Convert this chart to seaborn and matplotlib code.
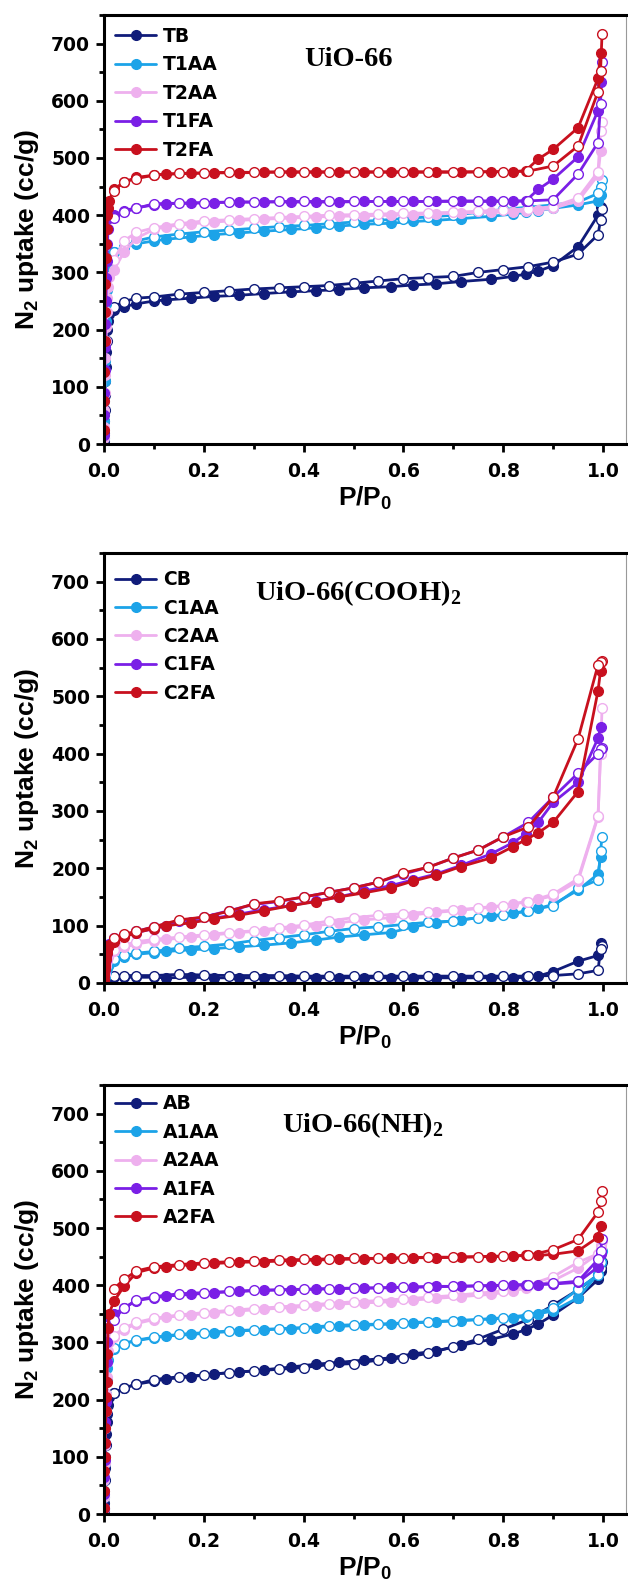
import matplotlib
matplotlib.use("Agg")
import matplotlib.pyplot as plt
import numpy as np
import pandas as pd
import seaborn as sns
from matplotlib.lines import Line2D
from matplotlib.ticker import MultipleLocator

# ---------------- data ----------------
P_ADS = [0.0002, 0.0005, 0.001, 0.0015, 0.002, 0.003, 0.004, 0.005, 0.006, 0.007, 0.008, 0.01,
         0.02, 0.04, 0.065, 0.1, 0.125, 0.175, 0.22, 0.27, 0.32, 0.375, 0.425, 0.47, 0.52,
         0.575, 0.62, 0.665, 0.715, 0.775, 0.82, 0.845, 0.87, 0.9, 0.95, 0.99, 0.995]
P_DES = [0.998, 0.995, 0.99, 0.95, 0.9, 0.85, 0.8, 0.75, 0.7, 0.65, 0.6, 0.55, 0.5, 0.45,
         0.4, 0.35, 0.3, 0.25, 0.2, 0.15, 0.1, 0.065, 0.04, 0.02]

# Panel 1: UiO-66
TB_ADS = [5, 20, 40, 60, 85, 110, 135, 160, 180, 200, 215, 228,
          235, 240, 245, 250, 252, 255, 258, 260, 263, 266, 268, 270, 273, 275, 278, 280, 284,
          288, 293, 297, 302, 312, 345, 400, 415]
TB_DES = [410, 392, 366, 332, 318, 310, 305, 300, 293, 291, 289, 285, 281, 277, 275, 273, 271,
          268, 265, 262, 257, 255, 249, 240]
T1AA_ADS = [10, 40, 75, 110, 145, 180, 215, 245, 270, 290, 310, 328,
            336, 345, 350, 355, 358, 362, 366, 369, 372, 375, 378, 381, 384, 386, 389, 391, 394,
            398, 402, 405, 408, 412, 418, 425, 435]
T1AA_DES = [462, 450, 438, 423, 418, 414, 410, 405, 400, 397, 394, 391, 388, 385, 382, 380, 377,
            374, 371, 367, 362, 355, 345, 335]
T2AA_ADS = [10, 30, 60, 90, 120, 150, 180, 205, 230, 255, 275, 292,
            305, 335, 360, 375, 380, 385, 388, 391, 393, 395, 397, 398, 399, 400, 401, 402, 404,
            405, 406, 407, 409, 412, 425, 470, 512]
T2AA_DES = [563, 548, 476, 430, 415, 411, 409, 407, 405, 404, 403, 402, 401, 400, 398, 396, 394,
            392, 390, 385, 378, 370, 355, 322]
T1FA_ADS = [15, 50, 90, 130, 170, 210, 250, 290, 320, 350, 375, 395,
            400, 408, 413, 418, 420, 421, 422, 423, 423, 423, 423, 423, 424, 424, 424, 424, 424,
            424, 424, 425, 445, 463, 502, 583, 632]
T1FA_DES = [668, 595, 527, 472, 427, 425, 425, 425, 425, 424, 424, 424, 424, 424, 424, 424, 423,
            423, 422, 421, 420, 412, 405, 395]
T2FA_ADS = [25, 75, 125, 180, 230, 280, 325, 350, 375, 400, 412, 425,
            445, 458, 466, 470, 472, 473, 474, 474, 475, 475, 475, 475, 475, 475, 475, 475, 475,
            476, 476, 478, 498, 515, 553, 639, 684]
T2FA_DES = [717, 652, 616, 521, 486, 477, 476, 476, 476, 476, 476, 476, 476, 476, 476, 476, 475,
            475, 474, 473, 470, 464, 458, 443]

# Panel 2: UiO-66(COOH)2
CB_ADS = [1, 2, 3, 4, 5, 6, 7, 8, 8, 9, 9, 10,
          10, 10, 10, 10, 9, 10, 9, 9, 9, 9, 9, 9, 9, 9, 9, 9, 9, 9, 9, 10, 12, 20, 38, 48, 70]
CB_DES = [65, 60, 22, 16, 13, 12, 12, 12, 12, 12, 12, 12, 12, 12, 12, 13, 13, 13, 14, 15, 13,
          13, 13, 12]
C1AA_ADS = [2, 5, 8, 11, 14, 17, 20, 23, 26, 28, 30, 33,
            38, 45, 50, 53, 55, 58, 60, 63, 66, 70, 75, 80, 84, 88, 98, 105, 110, 117, 122, 125,
            130, 137, 162, 190, 220]
C1AA_DES = [255, 230, 180, 165, 135, 126, 118, 114, 108, 106, 102, 98, 95, 90, 84, 79, 74, 68,
            64, 61, 55, 52, 48, 42]
C2AA_ADS = [3, 7, 12, 16, 20, 25, 30, 34, 38, 42, 46, 50,
            55, 62, 68, 73, 76, 80, 84, 88, 91, 96, 100, 105, 110, 114, 119, 123, 127, 132, 138,
            142, 146, 152, 178, 290, 400]
C2AA_DES = [480, 400, 292, 182, 155, 142, 135, 131, 127, 124, 121, 118, 114, 108, 101, 96, 91,
            88, 84, 80, 76, 72, 66, 58]
C1FA_ADS = [4, 10, 16, 22, 28, 34, 40, 46, 52, 57, 62, 68,
            75, 82, 88, 95, 100, 107, 113, 120, 128, 135, 143, 150, 160, 170, 180, 190, 205, 225,
            245, 260, 280, 315, 350, 427, 446]
C1FA_DES = [410, 408, 400, 366, 324, 280, 255, 232, 218, 202, 190, 176, 166, 158, 150, 142, 137,
            126, 115, 108, 98, 90, 84, 78]
C2FA_ADS = [5, 12, 18, 24, 30, 36, 42, 48, 53, 58, 62, 66,
            72, 80, 88, 95, 100, 105, 112, 118, 126, 135, 142, 150, 157, 166, 178, 188, 203, 218,
            238, 250, 262, 280, 334, 510, 545]
C2FA_DES = [562, 560, 555, 426, 324, 272, 255, 232, 218, 202, 192, 176, 166, 158, 150, 143, 138,
            125, 115, 110, 98, 90, 85, 78]

# Panel 3: UiO-66(NH)2
AB_ADS = [5, 20, 40, 60, 80, 100, 120, 140, 160, 175, 190, 205,
          212, 220, 227, 232, 236, 240, 245, 248, 252, 257, 262, 265, 269, 273, 280, 285, 295,
          305, 315, 322, 332, 348, 378, 410, 425]
AB_DES = [440, 430, 418, 392, 365, 340, 323, 306, 292, 281, 273, 269, 263, 261, 256, 253, 250,
          247, 243, 240, 235, 227, 220, 212]
A1AA_ADS = [8, 30, 60, 90, 120, 150, 180, 210, 235, 255, 270, 285,
            288, 298, 303, 308, 311, 314, 317, 320, 322, 324, 326, 328, 330, 332, 334, 336, 338,
            341, 343, 345, 350, 355, 378, 420, 440]
A1AA_DES = [460, 440, 418, 393, 360, 348, 343, 340, 338, 336, 334, 332, 331, 329, 326, 324, 322,
            320, 317, 314, 309, 304, 298, 290]
A2AA_ADS = [8, 30, 60, 90, 120, 150, 180, 210, 240, 265, 285, 300,
            310, 322, 333, 340, 344, 348, 352, 355, 358, 361, 364, 367, 369, 371, 374, 377, 380,
            384, 390, 395, 400, 408, 430, 455, 470]
A2AA_DES = [478, 465, 455, 440, 415, 400, 390, 386, 382, 379, 376, 373, 371, 368, 365, 362, 359,
            356, 352, 348, 342, 335, 325, 312]
A1FA_ADS = [10, 35, 65, 95, 125, 160, 195, 230, 265, 300, 325, 345,
            350, 360, 373, 378, 381, 384, 387, 389, 391, 392, 393, 394, 395, 396, 397, 398, 398,
            399, 400, 401, 401, 402, 405, 432, 455]
A1FA_DES = [480, 460, 445, 407, 403, 401, 400, 399, 398, 397, 396, 395, 395, 394, 393, 392, 391,
            389, 387, 385, 380, 374, 360, 340]
A2FA_ADS = [10, 40, 75, 100, 125, 150, 180, 205, 230, 280, 325, 350,
            372, 398, 422, 430, 432, 436, 438, 440, 441, 443, 444, 445, 446, 447, 448, 448, 449,
            450, 451, 452, 452, 454, 460, 484, 504]
A2FA_DES = [565, 547, 528, 480, 462, 452, 451, 450, 449, 449, 448, 447, 447, 446, 445, 444, 442,
            441, 439, 436, 432, 425, 410, 394]

COLORS = ["#101C7A", "#1CA3E8", "#EEB0EE", "#7A1FE6", "#C8101E"]

PANELS = [
    ("UiO-66", ["TB", "T1AA", "T2AA", "T1FA", "T2FA"],
     [(TB_ADS, TB_DES), (T1AA_ADS, T1AA_DES), (T2AA_ADS, T2AA_DES), (T1FA_ADS, T1FA_DES), (T2FA_ADS, T2FA_DES)]),
    ("UiO-66(COOH)$_2$", ["CB", "C1AA", "C2AA", "C1FA", "C2FA"],
     [(CB_ADS, CB_DES), (C1AA_ADS, C1AA_DES), (C2AA_ADS, C2AA_DES), (C1FA_ADS, C1FA_DES), (C2FA_ADS, C2FA_DES)]),
    ("UiO-66(NH)$_2$", ["AB", "A1AA", "A2AA", "A1FA", "A2FA"],
     [(AB_ADS, AB_DES), (A1AA_ADS, A1AA_DES), (A2AA_ADS, A2AA_DES), (A1FA_ADS, A1FA_DES), (A2FA_ADS, A2FA_DES)]),
]

# ---------------- style ----------------
sns.set_theme(style="ticks")
plt.rcParams["font.family"] = ["Liberation Sans", "DejaVu Sans"]
plt.rcParams["font.weight"] = "bold"
plt.rcParams["text.color"] = "black"
plt.rcParams["axes.labelcolor"] = "black"
plt.rcParams["xtick.color"] = "black"
plt.rcParams["ytick.color"] = "black"
plt.rcParams["axes.edgecolor"] = "black"
plt.rcParams["mathtext.fontset"] = "custom"
plt.rcParams["mathtext.rm"] = "Liberation Serif:bold"
plt.rcParams["mathtext.sf"] = "Liberation Sans:bold"
plt.rcParams["mathtext.bf"] = "Liberation Sans:bold"

TICK_FONT = "DejaVu Sans"

W, H = 628, 1588
fig = plt.figure(figsize=(W / 100, H / 100), dpi=100)

# axes pixel boxes (left, top, right, bottom)
boxes = [(104, 15, 626, 444), (104, 553, 626, 983), (104, 1085, 626, 1514)]
legend_y = [0.972, 0.960, 0.978]
title_pos = [(0.383, 0.882), (0.289, 0.891), (0.341, 0.891)]

LW = 2.0
MS = 7.0

for (title, names, series), (l, t, r, b), ly, (tx, ty) in zip(PANELS, boxes, legend_y, title_pos):
    ax = fig.add_axes([l / W, 1 - b / H, (r - l) / W, (b - t) / H])
    for name, color, (ads, des) in zip(names, COLORS, series):
        df_a = pd.DataFrame({"P": P_ADS, "V": ads})
        df_d = pd.DataFrame({"P": P_DES, "V": des})
        sns.lineplot(data=df_a, x="P", y="V", ax=ax, sort=False, estimator=None,
                     color=color, lw=LW, marker="o", markersize=MS,
                     markerfacecolor=color, markeredgecolor=color, markeredgewidth=1)
        sns.lineplot(data=df_d, x="P", y="V", ax=ax, sort=False, estimator=None,
                     color=color, lw=LW, marker="o", markersize=MS,
                     markerfacecolor="white", markeredgecolor=color, markeredgewidth=1)

    ax.set_xlim(0, 1.046)
    ax.set_ylim(0, 750)
    ax.xaxis.set_minor_locator(MultipleLocator(0.1))
    ax.yaxis.set_major_locator(MultipleLocator(100))
    ax.yaxis.set_minor_locator(MultipleLocator(50))
    ax.set_xticks([0, 0.2, 0.4, 0.6, 0.8, 1.0])
    ax.set_xticklabels(["0.0", "0.2", "0.4", "0.6", "0.8", "1.0"])
    ax.tick_params(which="major", direction="out", length=6, width=2, labelsize=13.5,
                   colors="black", top=False, right=False)
    ax.tick_params(which="minor", direction="out", length=3.5, width=2, colors="black",
                   top=False, right=False)
    ax.tick_params(axis="x", which="major", pad=7)
    ax.tick_params(axis="y", which="major", pad=4)
    for lab in ax.get_xticklabels() + ax.get_yticklabels():
        lab.set_fontweight("bold")
        lab.set_fontfamily(TICK_FONT)
        lab.set_color("black")

    for s in ["left", "bottom", "top"]:
        ax.spines[s].set_linewidth(2.2)
        ax.spines[s].set_color("black")
    ax.spines["right"].set_linewidth(0.8)
    ax.spines["right"].set_color("#999999")

    ax.set_xlabel(r"P/P$_\mathsf{0}$", fontsize=19, fontweight="bold", color="black")
    ax.set_ylabel(r"N$_\mathsf{2}$ uptake (cc/g)", fontsize=19, fontweight="bold", color="black")
    ax.xaxis.set_label_coords(0.5, -0.095)
    ax.yaxis.set_label_coords(-0.12, 0.5)

    ax.text(tx, ty, title, transform=ax.transAxes, fontfamily="Liberation Serif",
            fontweight="bold", fontsize=20.5, ha="left", va="baseline", color="black")

    handles = [Line2D([], [], color=c, lw=LW, marker="o", markersize=MS) for c in COLORS]
    leg = ax.legend(handles, names, loc="upper left", bbox_to_anchor=(11 / 522, ly),
                    borderaxespad=0, borderpad=0, frameon=False, handlelength=2.2,
                    handletextpad=0.35, labelspacing=0.5,
                    prop={"weight": "bold", "size": 13.5, "family": TICK_FONT})
    for txt in leg.get_texts():
        txt.set_color("black")

fig.savefig("out.png", dpi=100, facecolor="white")
